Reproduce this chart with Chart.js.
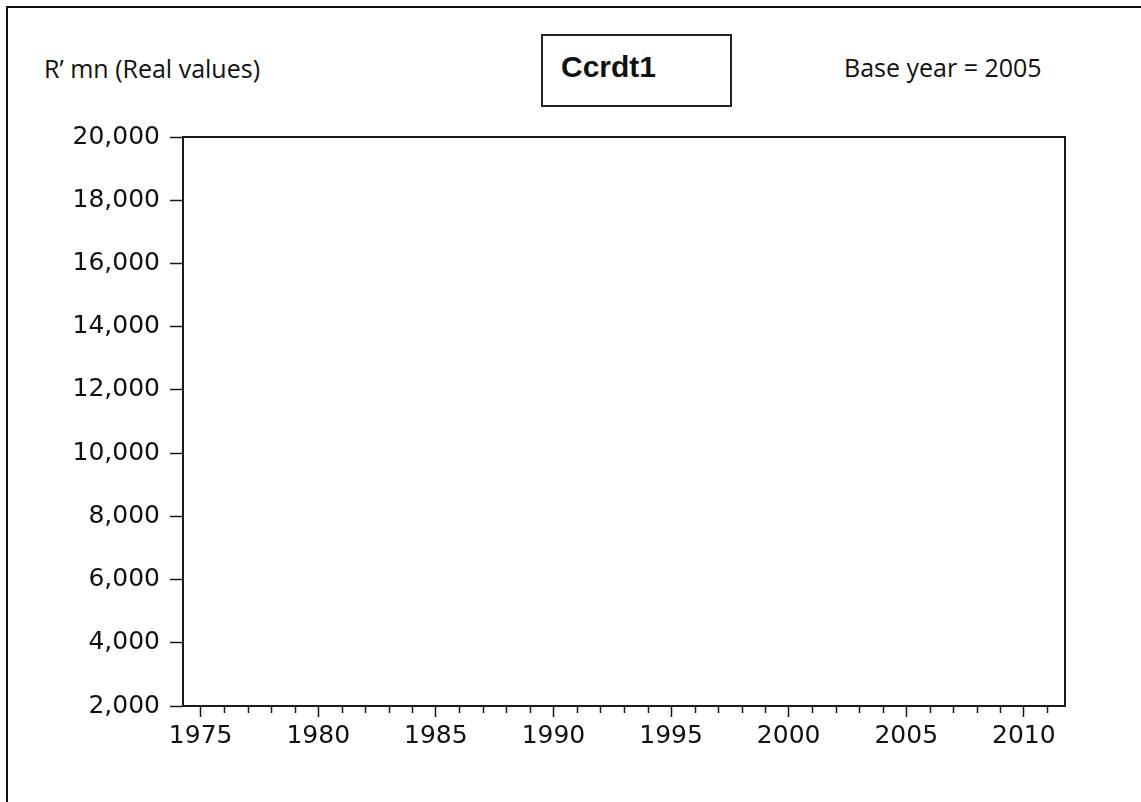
<!DOCTYPE html>
<html lang="en">
<head>
    <meta charset="UTF-8"/>
    <title>Ccrdt1</title>
    <script src="https://cdn.jsdelivr.net/npm/chart.js"></script>
    <style>
        body { margin: 0; background: #fff; }
        .wrap { position: relative; width: 1141px; height: 802px; overflow: hidden; }
        .frame { position: absolute; left: 6px; top: 6px; width: 1200px; height: 900px;
                 border-left: 2px solid #111; border-top: 2px solid #111; }
        .txt { position: absolute; line-height: 1; white-space: nowrap; color: #111; }
        .units { left: 44px; top: 51px; font: 25px "Open Sans"; }
        .base { left: 844px; top: 50px; font: 25px "Open Sans"; }
        .titlebox { position: absolute; left: 541px; top: 34px; width: 187px; height: 69px;
                    border: 2px solid #222; }
        .title { left: 561px; top: 50px; font: bold 30px "Liberation Sans"; }
        canvas { position: absolute; left: 0; top: 0; }
    </style>
</head>
<body>
<div class="wrap">
    <div class="frame"></div>
    <div class="txt units">R’ mn (Real values)</div>
    <div class="titlebox"></div>
    <div class="txt title">Ccrdt1</div>
    <div class="txt base">Base year = 2005</div>
    <div style="position:absolute;left:0;top:0;width:1141px;height:802px">
        <canvas id="myChart"></canvas>
    </div>
</div>
<script>
    // series (nothing is plotted in the reference, so the series is empty)
    var years = [];
    var ccrdt1Values = [];

    // axis ticks
    var xTickYears = [1975, 1980, 1985, 1990, 1995, 2000, 2005, 2010];
    var xTickLabels = ['1975', '1980', '1985', '1990', '1995', '2000', '2005', '2010'];
    var yTickValues = [2000, 4000, 6000, 8000, 10000, 12000, 14000, 16000, 18000, 20000];
    var yTickLabels = ['2,000', '4,000', '6,000', '8,000', '10,000', '12,000', '14,000', '16,000', '18,000', '20,000'];
    var xMin = 1974.25, xMax = 2011.75;

    var minorYears = [];
    for (var yr = 1975; yr <= 2011; yr++) {
        if (xTickYears.indexOf(yr) < 0) minorYears.push(yr);
    }

    var axisFont = { family: 'DejaVu Sans', size: 25 };

    // top/right frame of the plot and the small yearly ticks
    var frameAndMinor = {
        id: 'frameAndMinor',
        afterDraw: function(chart) {
            var ctx = chart.ctx, a = chart.chartArea, xs = chart.scales.x;
            ctx.save();
            ctx.strokeStyle = '#1a1a1a';
            ctx.lineWidth = 2;
            ctx.beginPath();
            ctx.moveTo(a.left, a.top);
            ctx.lineTo(a.right, a.top);
            ctx.lineTo(a.right, a.bottom);
            ctx.stroke();
            ctx.lineWidth = 1.5;
            ctx.beginPath();
            minorYears.forEach(function(y) {
                var px = Math.round(xs.getPixelForValue(y)) + 0.5;
                ctx.moveTo(px, a.bottom);
                ctx.lineTo(px, a.bottom + 7);
            });
            ctx.stroke();
            ctx.restore();
        }
    };

    var ctx = document.getElementById('myChart').getContext('2d');
    var myChart = new Chart(ctx, {
        type: 'line',
        data: {
            datasets: [{
                label: 'Ccrdt1',
                data: years.map(function(y, i) { return { x: y, y: ccrdt1Values[i] }; }),
                borderColor: '#1a1a1a',
                borderWidth: 1.5,
                pointRadius: 0
            }]
        },
        options: {
            responsive: true,
            maintainAspectRatio: false,
            animation: false,
            layout: { padding: { top: 137, right: 76, left: 0, bottom: 0 } },
            plugins: { legend: { display: false }, tooltip: { enabled: false } },
            scales: {
                x: {
                    type: 'linear',
                    min: xMin,
                    max: xMax,
                    afterBuildTicks: function(scale) {
                        scale.ticks = xTickYears.map(function(v) { return { value: v }; });
                    },
                    afterFit: function(scale) { scale.height = 96; },
                    ticks: {
                        autoSkip: false,
                        maxRotation: 0,
                        padding: 4,
                        color: '#111',
                        font: axisFont,
                        callback: function(value) {
                            var i = xTickYears.indexOf(value);
                            return i >= 0 ? xTickLabels[i] : '';
                        }
                    },
                    grid: { drawOnChartArea: false, tickLength: 11, tickColor: '#1a1a1a', tickWidth: 1.5 },
                    border: { color: '#1a1a1a', width: 2 }
                },
                y: {
                    min: 2000,
                    max: 20000,
                    afterBuildTicks: function(scale) {
                        scale.ticks = yTickValues.map(function(v) { return { value: v }; });
                    },
                    afterFit: function(scale) { scale.width = 183; },
                    ticks: {
                        padding: 10,
                        color: '#111',
                        font: axisFont,
                        callback: function(value) {
                            var i = yTickValues.indexOf(value);
                            return i >= 0 ? yTickLabels[i] : '';
                        }
                    },
                    grid: { drawOnChartArea: false, tickLength: 13, tickColor: '#1a1a1a', tickWidth: 1.5 },
                    border: { color: '#1a1a1a', width: 2 }
                }
            }
        },
        plugins: [frameAndMinor]
    });
</script>
</body>
</html>
